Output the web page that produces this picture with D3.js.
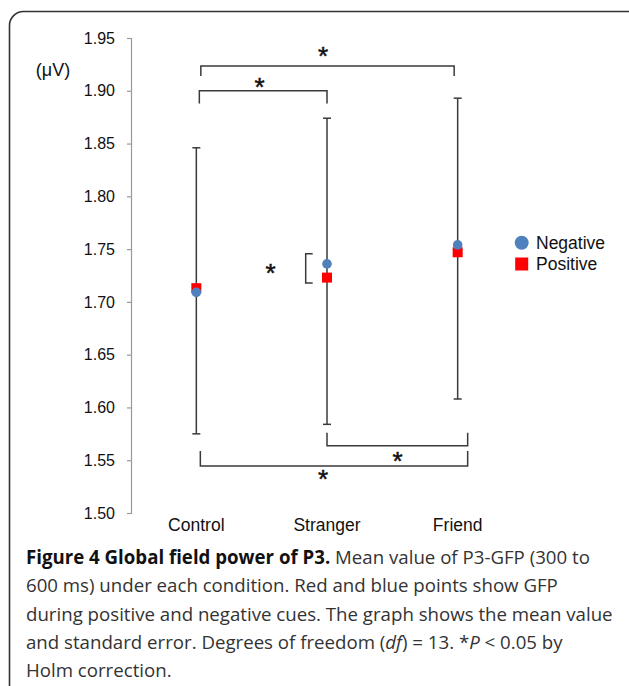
<!DOCTYPE html>
<html><head><meta charset="utf-8">
<script src="https://cdn.jsdelivr.net/npm/d3@7"></script>
<style>body{margin:0;background:#fff}svg{display:block}</style>
</head><body>
<script>
const categories = ["Control", "Stranger", "Friend"];
const negative = [1.709, 1.736, 1.754];
const positive = [1.713, 1.723, 1.747];
const errHigh = [1.846, 1.874, 1.893];
const errLow = [1.575, 1.584, 1.608];
const yTicks = [1.50, 1.55, 1.60, 1.65, 1.70, 1.75, 1.80, 1.85, 1.90, 1.95];
const seriesNames = ["Negative", "Positive"];
const unitLabel = "(μV)";
const captionLines = [
  [{t:"Figure 4 Global field power of P3.", b:true}, {t:" Mean value of P3-GFP (300 to"}],
  [{t:"600 ms) under each condition. Red and blue points show GFP"}],
  [{t:"during positive and negative cues. The graph shows the mean value"}],
  [{t:"and standard error. Degrees of freedom ("}, {t:"df", i:true}, {t:") = 13. *"}, {t:"P", i:true}, {t:" < 0.05 by"}],
  [{t:"Holm correction."}]
];

const W = 629, H = 686;
const svg = d3.select("body").append("svg").attr("width", W).attr("height", H);
const chartFont = "'Liberation Sans', Arial, Helvetica, sans-serif";
const capFont = "'Open Sans', 'Noto Sans', sans-serif";
const blue = "#4F81BD", red = "#FF0000", ink = "#3a3a3a";

// frame
svg.append("rect").attr("x", 9.5).attr("y", 11.5).attr("width", 640).attr("height", 690)
  .attr("rx", 14).attr("fill", "none").attr("stroke", "#333").attr("stroke-width", 1.6);

const y = d3.scaleLinear().domain([1.5, 1.95]).range([513, 38]);
const x = d3.scalePoint().domain(categories).range([131, 523]).padding(0.5);

// y axis
const ax = svg.append("g").attr("transform", "translate(131,0)")
  .call(d3.axisLeft(y).tickValues(yTicks).tickFormat(d3.format(".2f")).tickSize(4).tickPadding(12));
ax.select(".domain").attr("stroke", "#999").attr("stroke-width", 1.2);
ax.selectAll(".tick line").attr("stroke", "#999").attr("stroke-width", 1.2);
ax.selectAll(".tick text").attr("font-family", chartFont).attr("font-size", 16).attr("fill", "#111");

svg.append("text").attr("x", 53).attr("y", 76).attr("text-anchor", "middle")
  .attr("font-family", chartFont).attr("font-size", 18).attr("fill", "#111").text(unitLabel);

// x labels
svg.append("g").selectAll("text").data(categories).join("text")
  .attr("x", d => x(d)).attr("y", 531).attr("text-anchor", "middle")
  .attr("font-family", chartFont).attr("font-size", 17.5).attr("fill", "#111").text(d => d);

// error bars
const eb = svg.append("g").attr("stroke", ink).attr("stroke-width", 1.5).attr("fill", "none");
categories.forEach((c, i) => {
  const cx = x(c);
  eb.append("line").attr("x1", cx).attr("x2", cx).attr("y1", y(errLow[i])).attr("y2", y(errHigh[i]));
  eb.append("line").attr("x1", cx - 4).attr("x2", cx + 4).attr("y1", y(errLow[i])).attr("y2", y(errLow[i]));
  eb.append("line").attr("x1", cx - 4).attr("x2", cx + 4).attr("y1", y(errHigh[i])).attr("y2", y(errHigh[i]));
});

// points
const sq = 10;
svg.append("g").selectAll("rect").data(positive).join("rect")
  .attr("x", (d, i) => x(categories[i]) - sq / 2).attr("y", d => y(d) - sq / 2)
  .attr("width", sq).attr("height", sq).attr("fill", red);
svg.append("g").selectAll("circle").data(negative).join("circle")
  .attr("cx", (d, i) => x(categories[i])).attr("cy", d => y(d)).attr("r", 4.8).attr("fill", blue);

// significance brackets
const br = svg.append("g").attr("stroke", ink).attr("stroke-width", 1.5).attr("fill", "none");
function bracket(x1, x2, yv, yEnd) {
  const yy = y(yv), ye = y(yEnd);
  br.append("path").attr("d", `M${x1},${ye}V${yy}H${x2}V${ye}`);
}
const starSize = 26;
function star(cx, cyPix) {
  svg.append("text").attr("x", cx).attr("y", cyPix + 0.44 * starSize).attr("text-anchor", "middle")
    .attr("font-family", chartFont).attr("font-size", starSize).attr("fill", "#111")
    .attr("stroke", "#111").attr("stroke-width", 0.5).text("*");
}
bracket(x("Control") + 4.5, x("Friend") - 3.5, 1.9235, 1.914);
star(323, 54);
bracket(x("Control") + 3, x("Stranger"), 1.9001, 1.888);
star(259.5, 84.5);
bracket(x("Stranger"), x("Friend") + 10, 1.5638, 1.576);
star(397.5, 458.5);
bracket(x("Control") + 4, x("Friend") + 10, 1.5445, 1.5588);
star(323, 477);
// within-stranger bracket
br.append("path").attr("d", `M312.7,${y(1.7455)}H305.7V${y(1.718)}H312.7`);
star(270.5, 270.5);

// legend
const lg = svg.append("g");
lg.append("circle").attr("cx", 521.7).attr("cy", 242.7).attr("r", 7).attr("fill", blue);
lg.append("rect").attr("x", 515.2).attr("y", 257.5).attr("width", 13).attr("height", 13).attr("fill", red);
lg.selectAll("text").data(seriesNames).join("text")
  .attr("x", 536).attr("y", (d, i) => 242.7 + i * 21.5).attr("dy", "0.35em")
  .attr("font-family", chartFont).attr("font-size", 17.5).attr("fill", "#111").text(d => d);

// caption
const cap = svg.append("g").attr("font-family", capFont).attr("fill", "#333");
const lines = captionLines.map((segs, li) => {
  const t = cap.append("text").attr("x", 26).attr("y", 564 + li * 28.3);
  segs.forEach(s => {
    t.append("tspan").attr("font-weight", s.b ? "bold" : null).attr("font-style", s.i ? "italic" : null)
      .attr("fill", s.b ? "#111" : null).text(s.t);
  });
  return t;
});
// fit font size so the longest line spans the reference width
cap.attr("font-size", 18);
const w3 = lines[2].node().getComputedTextLength();
cap.attr("font-size", 18 * 587 / w3);
</script>
</body></html>
